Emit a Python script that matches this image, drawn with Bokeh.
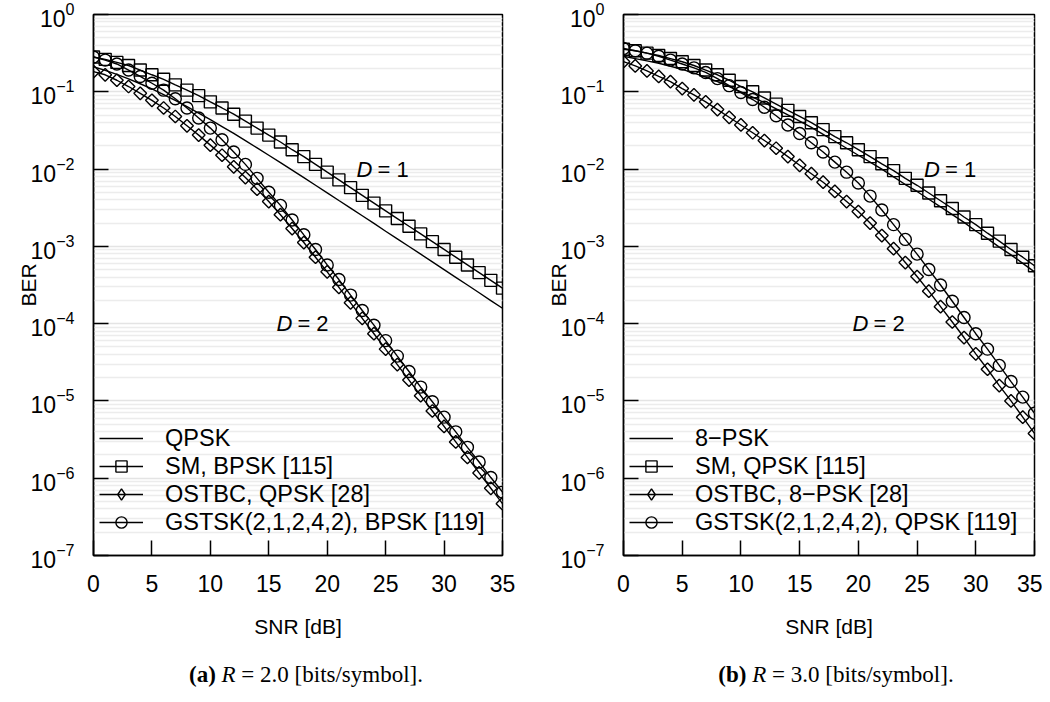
import numpy as np
from bokeh.plotting import figure
from bokeh.models import Range1d, FixedTicker, Label, Div
from bokeh.layouts import column, row
from bokeh.embed import file_html
from bokeh.resources import INLINE

snr_db = list(range(0, 36))

# Panel (a): R = 2.0 bits/symbol
a_qpsk = [0.211, 0.189, 0.168, 0.147, 0.127, 0.109, 0.0921, 0.0773, 0.0643, 0.0531,
          0.0436, 0.0355, 0.0289, 0.0233, 0.0188, 0.0151, 0.0121, 0.00968, 0.00774, 0.00618,
          0.00493, 0.00392, 0.00313, 0.00249, 0.00198, 0.00157, 0.00125, 0.000995, 0.000792, 0.000629,
          0.0005, 0.000397, 0.000316, 0.000251, 0.000199, 0.000158]
a_sm = [0.282, 0.263, 0.240, 0.219, 0.191, 0.166, 0.145, 0.123, 0.105, 0.0891,
        0.0741, 0.0617, 0.0513, 0.0417, 0.0339, 0.0275, 0.0224, 0.0178, 0.0145, 0.0115,
        0.00912, 0.00724, 0.00575, 0.00457, 0.00363, 0.00288, 0.00229, 0.00182, 0.00145, 0.00115,
        0.000912, 0.000724, 0.000575, 0.000457, 0.000363, 0.000288]
a_ostbc = [0.182, 0.166, 0.141, 0.117, 0.0955, 0.0776, 0.0617, 0.0479, 0.0363, 0.0275,
           0.0204, 0.0151, 0.0107, 0.00776, 0.00550, 0.00380, 0.00257, 0.00170, 0.00112, 0.000724,
           0.000468, 0.000295, 0.000186, 0.000117, 7.41e-5, 4.68e-5, 2.95e-5, 1.86e-5, 1.17e-5, 7.41e-6,
           4.68e-6, 2.95e-6, 1.86e-6, 1.17e-6, 7.41e-7, 4.68e-7]
a_gstsk = [0.282, 0.257, 0.229, 0.191, 0.158, 0.129, 0.105, 0.0813, 0.0617, 0.0457,
           0.0339, 0.0240, 0.0166, 0.0115, 0.00759, 0.00501, 0.00339, 0.00219, 0.00141, 0.000912,
           0.000575, 0.000372, 0.000234, 0.000148, 9.55e-5, 6.03e-5, 3.80e-5, 2.40e-5, 1.51e-5, 9.77e-6,
           6.17e-6, 3.98e-6, 2.51e-6, 1.62e-6, 1.02e-6, 6.61e-7]
a_labels = ["QPSK", "SM, BPSK [115]", "OSTBC, QPSK [28]", "GSTSK(2,1,2,4,2), BPSK [119]"]

# Panel (b): R = 3.0 bits/symbol
b_8psk = [0.288, 0.269, 0.251, 0.234, 0.214, 0.195, 0.174, 0.155, 0.135, 0.117,
          0.100, 0.0851, 0.0724, 0.0603, 0.0501, 0.0417, 0.0347, 0.0282, 0.0229, 0.0186,
          0.0151, 0.0123, 0.0100, 0.00794, 0.00631, 0.00513, 0.00407, 0.00324, 0.00257, 0.00204,
          0.00158, 0.00126, 0.000977, 0.000776, 0.000603, 0.000468]
b_sm = [0.355, 0.339, 0.316, 0.295, 0.269, 0.245, 0.219, 0.191, 0.166, 0.141,
        0.117, 0.100, 0.0832, 0.0692, 0.0575, 0.0479, 0.0398, 0.0324, 0.0263, 0.0219,
        0.0178, 0.0145, 0.0117, 0.00955, 0.00759, 0.00617, 0.00490, 0.00389, 0.00309, 0.00240,
        0.00191, 0.00148, 0.00117, 0.000912, 0.000724, 0.000562]
b_ostbc = [0.245, 0.216, 0.186, 0.158, 0.135, 0.110, 0.0912, 0.0741, 0.0589, 0.0468,
           0.0372, 0.0295, 0.0234, 0.0186, 0.0145, 0.0112, 0.00871, 0.00676, 0.00513, 0.00380,
           0.00282, 0.00200, 0.00138, 0.000933, 0.000617, 0.000407, 0.000263, 0.000166, 0.000105, 6.61e-5,
           4.07e-5, 2.57e-5, 1.58e-5, 1.00e-5, 6.17e-6, 3.80e-6]
b_gstsk = [0.363, 0.339, 0.316, 0.288, 0.257, 0.229, 0.204, 0.178, 0.148, 0.120,
           0.0977, 0.0794, 0.0631, 0.0490, 0.0372, 0.0288, 0.0219, 0.0166, 0.0123, 0.00912,
           0.00661, 0.00447, 0.00295, 0.00191, 0.00123, 0.000794, 0.000501, 0.000316, 0.000195, 0.000120,
           7.41e-5, 4.68e-5, 2.88e-5, 1.78e-5, 1.12e-5, 6.92e-6]
b_labels = ["8\u2212PSK", "SM, QPSK [115]", "OSTBC, 8\u2212PSK [28]", "GSTSK(2,1,2,4,2), QPSK [119]"]

x_ticks = [0, 5, 10, 15, 20, 25, 30, 35]
y_ticks = [1e-7, 1e-6, 1e-5, 1e-4, 1e-3, 1e-2, 1e-1, 1.0]

FONT = "Liberation Sans"
NAN = float("nan")


def make_panel(series, labels, d1_pos, d2_pos, width, min_right):
    p = figure(width=width, height=650, x_axis_type="linear", y_axis_type="log",
               x_range=Range1d(0, 35), y_range=Range1d(1e-7, 1.0),
               output_backend="svg", toolbar_location=None,
               min_border_left=93, min_border_right=min_right,
               min_border_top=14, min_border_bottom=95)
    p.background_fill_color = "white"
    p.border_fill_color = "white"
    p.outline_line_color = "black"
    p.outline_line_width = 1.5

    p.xaxis.ticker = FixedTicker(ticks=x_ticks)
    minor = [m * 10.0 ** e for e in range(-7, 0) for m in range(2, 10)]
    p.yaxis.ticker = FixedTicker(ticks=y_ticks, minor_ticks=minor)

    for ax in (p.xaxis[0], p.yaxis[0]):
        ax.major_tick_in = 15
        ax.major_tick_out = 0
        ax.minor_tick_in = 0
        ax.minor_tick_out = 0
        ax.major_tick_line_width = 1.5
        ax.axis_line_width = 1.5
        ax.major_label_text_font = FONT
        ax.major_label_text_color = "black"
        ax.axis_label_text_font = FONT
        ax.axis_label_text_font_size = "21px"
        ax.axis_label_text_font_style = "normal"
        ax.axis_label_text_color = "black"
    p.xaxis.major_label_text_font_size = "23px"
    p.yaxis.major_label_text_font_size = "23px"
    p.xaxis.axis_label = "SNR [dB]"
    p.yaxis.axis_label = "BER"
    p.xaxis.major_label_standoff = 19
    p.xaxis.axis_label_standoff = 20
    p.yaxis.major_label_standoff = 19
    p.yaxis.axis_label_standoff = -12

    p.xgrid.grid_line_color = None
    p.ygrid.grid_line_color = "#e4e4e4"
    p.ygrid.grid_line_width = 1.5
    p.ygrid.minor_grid_line_color = "#ececec"
    p.ygrid.minor_grid_line_width = 1.5

    ref, sm, ostbc, gstsk = series
    lw = 1.4
    p.line(snr_db, ref, line_color="black", line_width=lw, legend_label=labels[0])

    p.line(snr_db, sm, line_color="black", line_width=lw, legend_label=labels[1])
    p.scatter(snr_db, sm, marker="square", size=12, line_color="black", line_width=lw,
              fill_alpha=0, legend_label=labels[1])

    p.line(snr_db, ostbc, line_color="black", line_width=lw, legend_label=labels[2])
    p.scatter(snr_db, ostbc, marker="square", angle=np.pi / 4, size=9, line_color="black",
              line_width=lw, fill_alpha=0)
    # legend proxy for the diamond marker (NaN point: never drawn in the plot)
    p.scatter(x=[NAN], y=[NAN], marker="diamond", size=12, line_color="black",
              line_width=lw, fill_alpha=0, legend_label=labels[2])

    p.line(snr_db, gstsk, line_color="black", line_width=lw, legend_label=labels[3])
    p.scatter(snr_db, gstsk, marker="circle", size=12, line_color="black", line_width=lw,
              fill_alpha=0, legend_label=labels[3])

    lg = p.legend[0]
    lg.location = (6, 19)
    lg.margin = 0
    lg.padding = 0
    lg.spacing = 0
    lg.glyph_width = 44
    lg.glyph_height = 28
    lg.label_height = 28
    lg.label_standoff = 22
    lg.label_text_font = FONT
    lg.label_text_font_size = "23.5px"
    lg.label_text_color = "black"
    lg.background_fill_alpha = 0
    lg.border_line_color = None

    for (xd, yd, num) in ((d1_pos[0], d1_pos[1], "1"), (d2_pos[0], d2_pos[1], "2")):
        p.add_layout(Label(x=xd, y=yd, text="D", text_font=FONT, text_font_size="22px",
                           text_font_style="italic", text_baseline="middle", text_color="black"))
        p.add_layout(Label(x=xd, y=yd, x_offset=21, text="= " + num, text_font=FONT,
                           text_font_size="22px", text_baseline="middle", text_color="black"))
    return p


pa = make_panel((a_qpsk, a_sm, a_ostbc, a_gstsk), a_labels, (22.5, 1e-2), (15.65, 1e-4), 530, 28)
pb = make_panel((b_8psk, b_sm, b_ostbc, b_gstsk), b_labels, (25.6, 1e-2), (19.5, 1e-4), 512, 8)

cap_style = ("width:400px;text-align:center;font-family:'Liberation Serif';font-size:23px;"
             "color:black;margin-left:101px;padding-top:4px;")
da = Div(text='<div style="%s"><b>(a)</b> <i>R</i> = 2.0 [bits/symbol].</div>' % cap_style,
         width=520, height=30)
db = Div(text='<div style="%s"><b>(b)</b> <i>R</i> = 3.0 [bits/symbol].</div>' % cap_style,
         width=500, height=30)

layout = column(row(pa, pb), row(da, db))
open("out.html", "w").write(file_html(layout, INLINE))
